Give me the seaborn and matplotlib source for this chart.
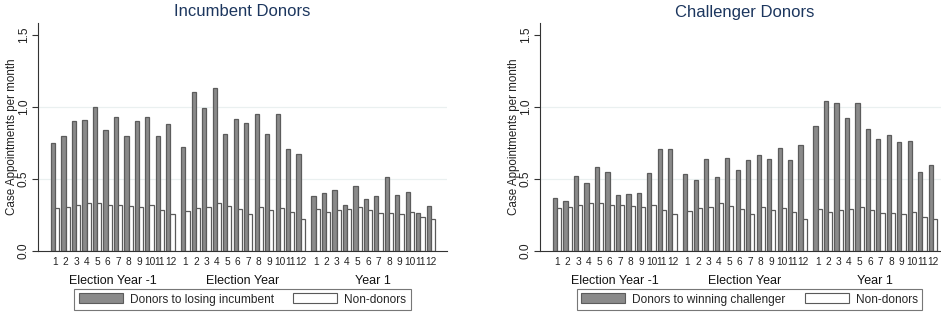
import numpy as np
import pandas as pd
import matplotlib
matplotlib.use("Agg")
import matplotlib.pyplot as plt
import matplotlib.transforms as mtransforms
from matplotlib.patches import Patch
import seaborn as sns

sns.set_style("white")
plt.rcParams["font.family"] = ["Liberation Sans", "DejaVu Sans"]

years = ["Election Year -1", "Election Year", "Year 1"]
months = list(range(1, 13))

incumbent_donors = [
    0.75, 0.80, 0.90, 0.91, 1.00, 0.84, 0.93, 0.80, 0.90, 0.93, 0.80, 0.88,
    0.72, 1.10, 0.99, 1.13, 0.81, 0.915, 0.89, 0.95, 0.81, 0.95, 0.71, 0.67,
    0.38, 0.40, 0.42, 0.32, 0.45, 0.36, 0.38, 0.51, 0.39, 0.41, 0.26, 0.31,
]
challenger_donors = [
    0.365, 0.346, 0.52, 0.47, 0.58, 0.55, 0.386, 0.395, 0.40, 0.543, 0.71, 0.707,
    0.536, 0.49, 0.637, 0.515, 0.642, 0.564, 0.633, 0.667, 0.637, 0.711, 0.633, 0.734,
    0.868, 1.042, 1.028, 0.921, 1.023, 0.843, 0.776, 0.804, 0.753, 0.76, 0.545, 0.598,
]
non_donors = [
    0.298, 0.305, 0.316, 0.335, 0.33, 0.316, 0.316, 0.309, 0.305, 0.319, 0.282, 0.259,
    0.277, 0.298, 0.307, 0.333, 0.314, 0.291, 0.259, 0.303, 0.282, 0.298, 0.273, 0.224,
    0.291, 0.268, 0.282, 0.289, 0.307, 0.286, 0.261, 0.261, 0.254, 0.268, 0.236, 0.219,
]

panels = [
    ("Incumbent Donors", "Donors to losing incumbent", incumbent_donors),
    ("Challenger Donors", "Donors to winning challenger", challenger_donors),
]

GAP = 0.43
GRAY = "#8a8a8a"
GRAY_EDGE = "#5c5c5c"
WHITE_EDGE = "#5a5a5a"
TITLE_C = "#1c365e"

fig = plt.figure(figsize=(9.41, 3.2), dpi=100)
W, H = 941, 320
ax_rects = [
    [38 / W, 69 / H, 409 / W, 228 / H],
    [540 / W, 69 / H, 409 / W, 228 / H],
]
legend_boxes = [(72, 289, 413, 310), (570, 289, 929, 310)]

for (title, dlabel, dvals), rect, lb in zip(panels, ax_rects, legend_boxes):
    ax = fig.add_axes(rect)
    rows = []
    for yi, yname in enumerate(years):
        for mi, m in enumerate(months):
            pos = yi * (12 + GAP) + mi
            k = yi * 12 + mi
            rows.append({"pos": pos, "year": yname, "month": m,
                         "series": dlabel, "value": dvals[k]})
            rows.append({"pos": pos, "year": yname, "month": m,
                         "series": "Non-donors", "value": non_donors[k]})
    df = pd.DataFrame(rows)
    sns.barplot(data=df, x="pos", y="value", hue="series",
                hue_order=[dlabel, "Non-donors"],
                palette={dlabel: GRAY, "Non-donors": "white"},
                native_scale=True, width=0.8, ax=ax, legend=False,
                errorbar=None, saturation=1, linewidth=0.9)
    for p in ax.patches:
        fc = p.get_facecolor()
        if fc[0] > 0.9:
            p.set_edgecolor(WHITE_EDGE)
        else:
            p.set_edgecolor(GRAY_EDGE)
        p.set_linewidth(0.9)

    for yv in (0.5, 1.0):
        ax.axhline(yv, color="#eaf0f0", lw=0.9, zorder=0)

    ax.set_ylim(0, 1.58)
    ax.set_xlim(-1.64, 37.4)
    positions = sorted(df["pos"].unique())
    ax.set_xticks(positions)
    ax.set_xticklabels([str(m) for m in months] * 3, fontsize=7.3, color="#222222")
    ax.tick_params(axis="x", length=0, pad=4)
    ax.set_yticks([0, 0.5, 1.0, 1.5])
    ax.set_yticklabels(["0.0", "0.5", "1.0", "1.5"], rotation=90, va="center",
                       fontsize=8.6, color="#222222")
    ax.tick_params(axis="y", length=4, width=0.8, color="#333333", pad=2,
                   left=True, direction="out")
    ax.set_xlabel("")
    ax.set_ylabel("Case Appointments per month", fontsize=8.4, color="#222222",
                  labelpad=0)
    for s in ("top", "right"):
        ax.spines[s].set_visible(False)
    for s in ("left", "bottom"):
        ax.spines[s].set_color("#333333")
        ax.spines[s].set_linewidth(0.8)
    ax.grid(False)

    trans = mtransforms.blended_transform_factory(ax.transData, fig.transFigure)
    for yi, yname in enumerate(years):
        center = yi * (12 + GAP) + 5.5
        ax.text(center, 1 - 281 / H, yname, transform=trans, ha="center",
                va="center", fontsize=9, color="#111111")

    ax.text(0.5, 1 - 12 / H, title, transform=mtransforms.blended_transform_factory(
        ax.transAxes, fig.transFigure), ha="center", va="center",
        fontsize=12, color=TITLE_C)

    x0, y0, x1, y1 = lb
    handles = [Patch(facecolor=GRAY, edgecolor=GRAY_EDGE, lw=0.8),
               Patch(facecolor="white", edgecolor=WHITE_EDGE, lw=0.8)]
    leg = fig.legend(handles, [dlabel, "Non-donors"], ncol=2,
                     loc="center", bbox_to_anchor=((x0 + x1) / 2 / W, 1 - (y0 + y1) / 2 / H),
                     fontsize=8.6, frameon=True, fancybox=False,
                     handlelength=3.7, handleheight=0.9, columnspacing=1.6,
                     handletextpad=0.6, borderpad=0.35)
    leg.get_frame().set_edgecolor("#555555")
    leg.get_frame().set_linewidth(0.8)

fig.savefig("out.png", dpi=100)
